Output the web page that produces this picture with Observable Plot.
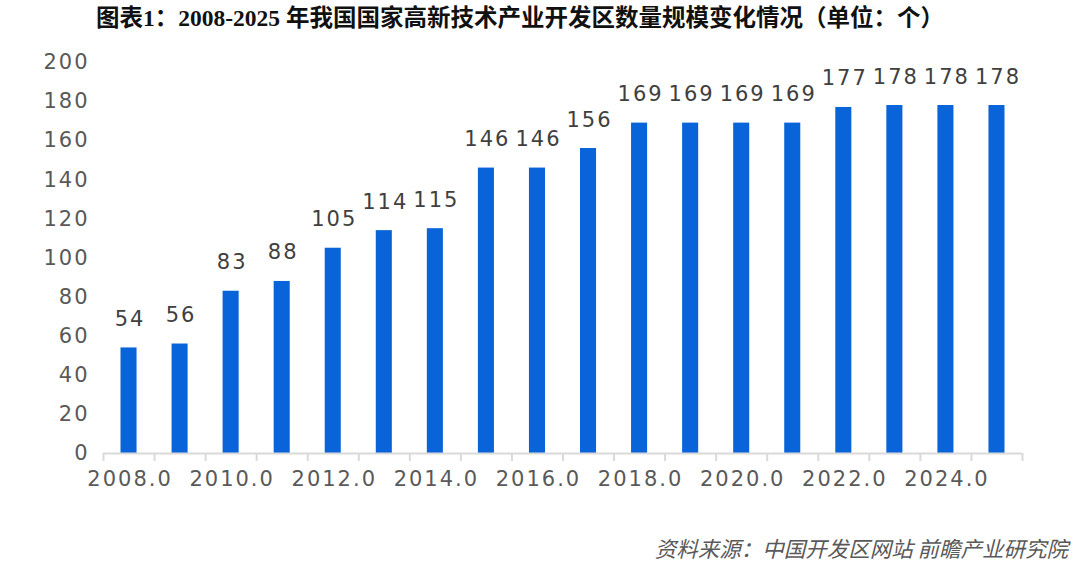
<!DOCTYPE html>
<html>
<head>
<meta charset="utf-8">
<script src="https://cdn.jsdelivr.net/npm/d3@7"></script>
<script src="https://cdn.jsdelivr.net/npm/@observablehq/plot@0.6"></script>
<style>
  html, body { margin: 0; padding: 0; background: #ffffff; }
  #wrap { width: 1080px; height: 578px; position: relative; overflow: hidden; }
  #title { height: 38px; line-height: 36px; text-align: center; padding-right: 40px;
    font-family: "Liberation Serif", "Noto Sans CJK SC", serif; font-weight: bold; font-size: 23.5px; color: #111; white-space: nowrap; }
  #caption { height: 48px; text-align: right; padding-right: 12px; line-height: 36px;
    font-family: "Noto Sans CJK SC", sans-serif; font-style: italic; font-size: 21.5px; color: #595959; }
  #chart svg { display: block; }
  #chart svg g[aria-label="text"] text { letter-spacing: 2px; }
  #chart svg g[aria-label="x-axis tick label"] text { letter-spacing: 2px; }
  #chart svg g[aria-label="y-axis tick label"] text { letter-spacing: 2px; }
</style>
</head>
<body>
<div id="wrap">
  <div id="title">图表1：2008-2025 年我国国家高新技术产业开发区数量规模变化情况（单位：个）</div>
  <div id="chart"></div>
  <div id="caption">资料来源：中国开发区网站 前瞻产业研究院</div>
</div>
<script>
const years = [2008, 2009, 2010, 2011, 2012, 2013, 2014, 2015, 2016, 2017, 2018, 2019, 2020, 2021, 2022, 2023, 2024, 2025];
const counts = [54, 56, 83, 88, 105, 114, 115, 146, 146, 156, 169, 169, 169, 169, 177, 178, 178, 178];
const xLabelYears = [2008, 2010, 2012, 2014, 2016, 2018, 2020, 2022, 2024];
const yTicks = [0, 20, 40, 60, 80, 100, 120, 140, 160, 180, 200];

const data = years.map((year, i) => ({year, value: counts[i]}));
const tickEdges = years.concat([years[years.length - 1] + 1]);

const chart = Plot.plot({
  width: 1080,
  height: 492,
  marginLeft: 103,
  marginRight: 58,
  marginTop: 24,
  marginBottom: 77,
  x: {type: "linear", domain: [years[0], years[years.length - 1] + 1], label: null},
  y: {domain: [0, 200], label: null},
  style: {fontFamily: "DejaVu Sans", fontSize: "21px", background: "#ffffff"},
  marks: [
    Plot.rectY(data, {x1: "year", x2: d => d.year + 1, y: "value", fill: "#0a64d9", insetLeft: 17.5, insetRight: 17.5}),
    Plot.text(data, {x: d => d.year + 0.5, y: "value", text: d => String(d.value), lineAnchor: "bottom", dy: -22, dx: 1,
      fill: "#404040", fontSize: 21}),
    Plot.ruleY([0], {stroke: "#d9d9d9", strokeWidth: 2}),
    Plot.axisX({ticks: tickEdges, tickFormat: () => "", tickSize: 8, stroke: "#d9d9d9", strokeWidth: 2, label: null}),
    Plot.axisX({ticks: xLabelYears.map(y => y + 0.5), tickFormat: d => (d - 0.5).toFixed(1), tickSize: 0, tickPadding: 18, dx: 1,
      color: "#595959", fontSize: 21, label: null}),
    Plot.axisY({ticks: yTicks, tickSize: 0, tickPadding: 14, color: "#595959", fontSize: 21, label: null})
  ]
});
document.getElementById("chart").appendChild(chart);
</script>
</body>
</html>
